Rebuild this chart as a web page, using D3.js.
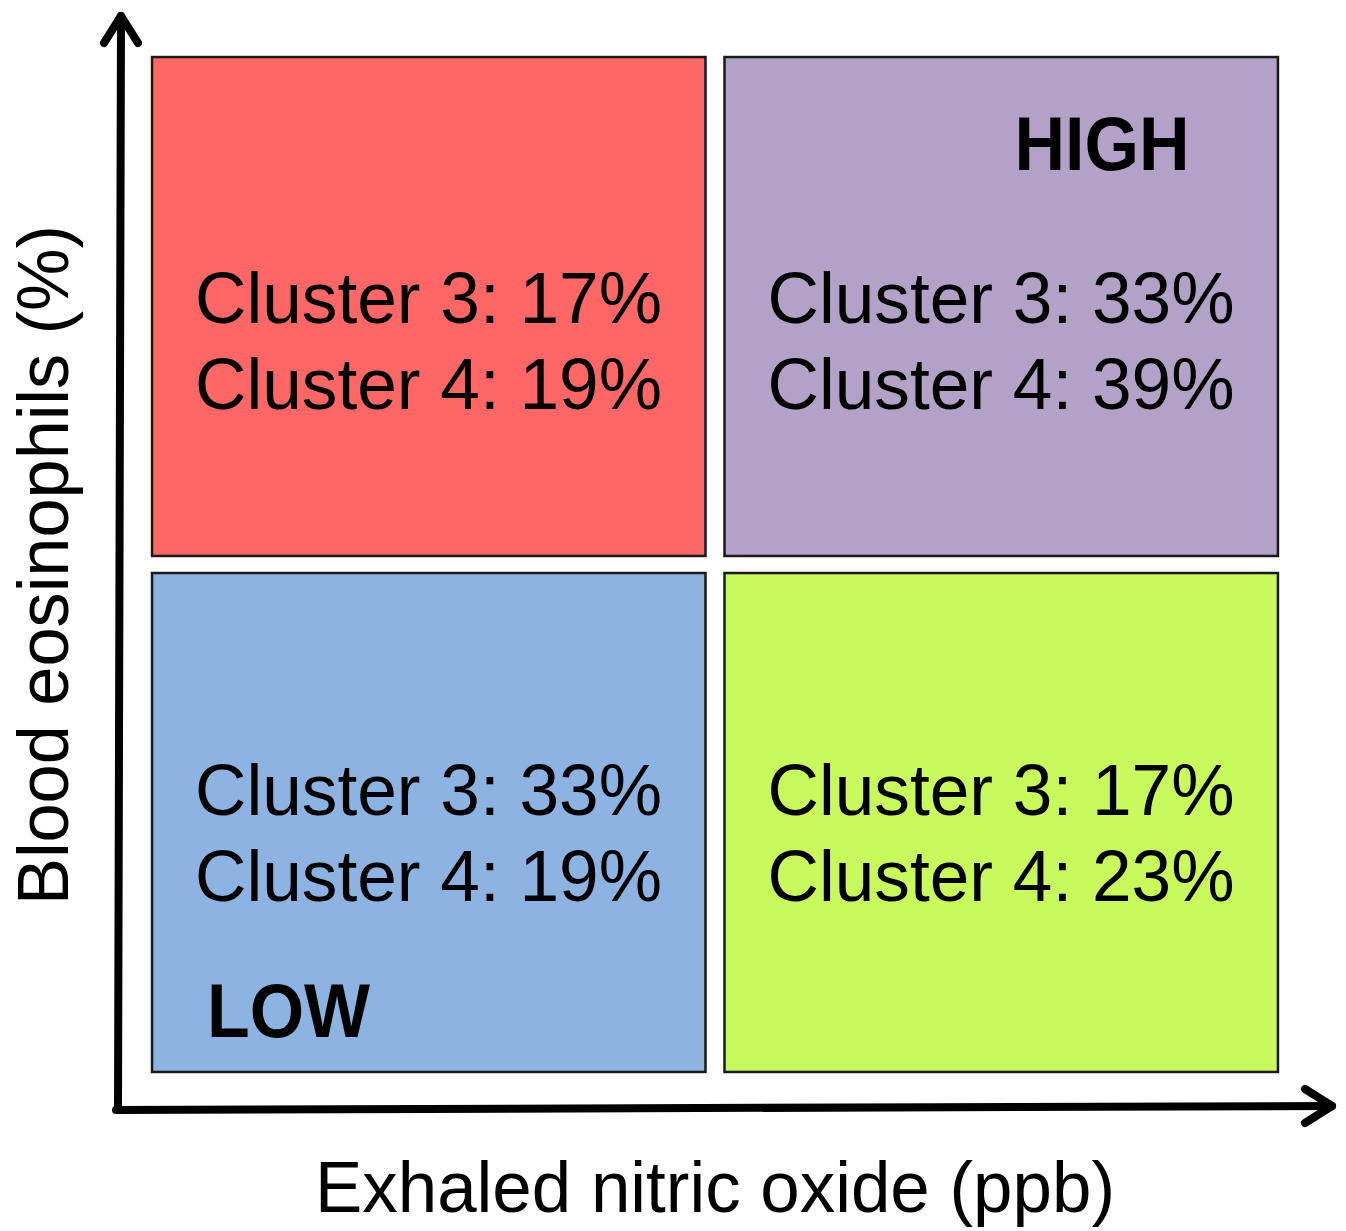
<!DOCTYPE html>
<html><head><meta charset="utf-8">
<script src="https://cdn.jsdelivr.net/npm/d3@7"></script>
<style>body{margin:0;background:#fff}svg{display:block}text{font-family:"Liberation Sans",Arial,sans-serif}</style>
</head><body>
<script>
const noLevels = ["low","high"];          // Exhaled nitric oxide
const eosLevels = ["high","low"];         // Blood eosinophils (top to bottom)
const quadrants = [
  {no:"low",  eos:"high", c3:17, c4:19, color:"#FF6666"},
  {no:"high", eos:"high", c3:33, c4:39, color:"#B3A2C7"},
  {no:"low",  eos:"low",  c3:33, c4:19, color:"#8DB3E2"},
  {no:"high", eos:"low",  c3:17, c4:23, color:"#C8F95D"}
];
const xTitle = "Exhaled nitric oxide (ppb)";
const yTitle = "Blood eosinophils (%)";

const W=1346,H=1231;
const svg=d3.select("body").append("svg").attr("width",W).attr("height",H);
const x=d3.scaleBand().domain(noLevels).range([143,1287]).paddingInner(0.0332).paddingOuter(0.0158);
const y=d3.scaleBand().domain(eosLevels).range([48,1081]).paddingInner(0.033).paddingOuter(0.0175);
const textOff={high:266, low:242};

const g=svg.append("g").selectAll("g").data(quadrants).join("g");
g.append("rect")
  .attr("x",d=>x(d.no)).attr("y",d=>y(d.eos))
  .attr("width",x.bandwidth()).attr("height",y.bandwidth())
  .attr("fill",d=>d.color).attr("stroke","#1a1a1a").attr("stroke-width",2.5);
const fs=73;
g.append("text").attr("x",d=>x(d.no)+43).attr("y",d=>y(d.eos)+textOff[d.eos])
  .attr("font-size",fs).attr("textLength",467).attr("lengthAdjust","spacingAndGlyphs")
  .text(d=>`Cluster 3: ${d.c3}%`);
g.append("text").attr("x",d=>x(d.no)+43).attr("y",d=>y(d.eos)+textOff[d.eos]+86)
  .attr("font-size",fs).attr("textLength",467).attr("lengthAdjust","spacingAndGlyphs")
  .text(d=>`Cluster 4: ${d.c4}%`);

svg.append("text").attr("x",x("high")+290).attr("y",y("high")+113)
  .attr("font-size",76).attr("font-weight","bold").attr("textLength",175).attr("lengthAdjust","spacingAndGlyphs").text("HIGH");
svg.append("text").attr("x",x("low")+55).attr("y",y("low")+464)
  .attr("font-size",76).attr("font-weight","bold").attr("textLength",163).attr("lengthAdjust","spacingAndGlyphs").text("LOW");

// axes with arrows
const ax=svg.append("g").attr("stroke","#000").attr("stroke-width",8).attr("stroke-linecap","round").attr("stroke-linejoin","round").attr("fill","none");
ax.append("path").attr("d","M118,1110 L121,16");
ax.append("path").attr("d","M104,43 L121,16 L138,43");
ax.append("path").attr("d","M116,1110 L1332,1106");
ax.append("path").attr("d","M1305,1089 L1332,1106 L1305,1123");

svg.append("text").attr("x",715).attr("y",1212).attr("text-anchor","middle")
  .attr("font-size",72).attr("textLength",800).attr("lengthAdjust","spacingAndGlyphs").text(xTitle);
svg.append("text").attr("transform","translate(68,565) rotate(-90)").attr("text-anchor","middle")
  .attr("font-size",72).attr("textLength",680).attr("lengthAdjust","spacingAndGlyphs").text(yTitle);
</script>
</body></html>
